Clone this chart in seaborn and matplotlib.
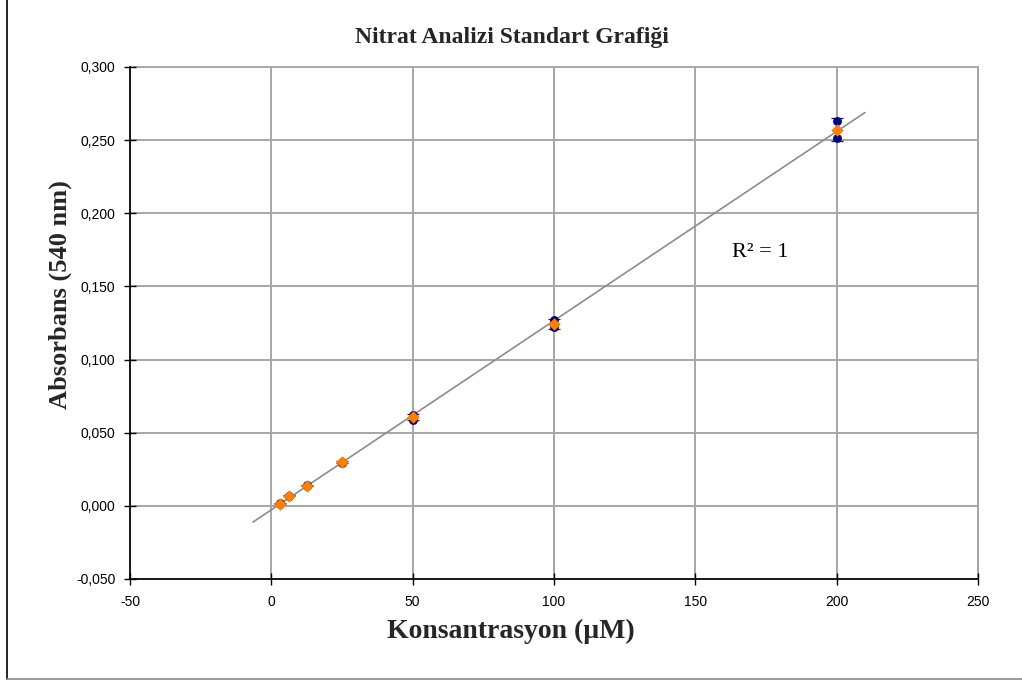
import numpy as np
import pandas as pd
import matplotlib
matplotlib.use("Agg")
import matplotlib.pyplot as plt
from matplotlib.lines import Line2D
from matplotlib.ticker import FuncFormatter, MultipleLocator
import seaborn as sns

# Nitrate standard series (µM) and absorbance readings at 540 nm
concentration = [3.125, 6.25, 12.5, 25, 50, 100, 200]
absorbance_rep1 = [0.0018, 0.0070, 0.0140, 0.0302, 0.0620, 0.1270, 0.2630]
absorbance_rep2 = [0.0014, 0.0066, 0.0136, 0.0295, 0.0590, 0.1220, 0.2515]

x_ticks = [-50, 0, 50, 100, 150, 200, 250]
y_ticks = [-0.05, 0.0, 0.05, 0.10, 0.15, 0.20, 0.25, 0.30]

# trendline extension (backward / forward), in µM
trend_backward = 6.5
trend_forward = 10

sns.set_theme(style="white")
plt.rcParams["font.family"] = ["Liberation Sans", "DejaVu Sans"]

reps = pd.DataFrame({
    "conc": concentration * 2,
    "abs": absorbance_rep1 + absorbance_rep2,
})
means = pd.DataFrame({
    "conc": concentration,
    "abs": np.mean([absorbance_rep1, absorbance_rep2], axis=0),
    "sd": np.std([absorbance_rep1, absorbance_rep2], axis=0, ddof=1),
})

fig = plt.figure(figsize=(10.22, 6.82), dpi=100)
ax = fig.add_axes([130 / 1022, 1 - 579 / 682, (978 - 130) / 1022, (579 - 67) / 682])

ax.set_xlim(x_ticks[0], x_ticks[-1])
ax.set_ylim(y_ticks[0], y_ticks[-1])
ax.xaxis.set_major_locator(MultipleLocator(50))
ax.yaxis.set_major_locator(MultipleLocator(0.05))
ax.grid(True, color="#a6a6a6", linewidth=1.4)
ax.set_axisbelow(True)
for gl in ax.get_xgridlines() + ax.get_ygridlines():
    gl.set_clip_on(False)

# linear fit through the mean values
slope, intercept = np.polyfit(means["conc"], means["abs"], 1)
r2 = np.corrcoef(means["conc"], means["abs"])[0, 1] ** 2
fit_x = np.array([-trend_backward, max(concentration) + trend_forward])
trend = pd.DataFrame({"conc": fit_x, "abs": slope * fit_x + intercept})
sns.lineplot(data=trend, x="conc", y="abs", ax=ax, color="#8c8c8c", linewidth=1.2, zorder=2)

ax.errorbar(means["conc"], means["abs"], yerr=means["sd"], fmt="none",
            ecolor="#1a1a6e", elinewidth=0.9, capsize=4, capthick=0.9, zorder=3)
sns.scatterplot(data=reps, x="conc", y="abs", ax=ax, color="#000080", marker="o",
                s=34, edgecolor="#000080", linewidth=0.5, zorder=4)
sns.scatterplot(data=means, x="conc", y="abs", ax=ax, color="#ff8000", marker="D",
                s=34, edgecolor="#ff8000", linewidth=0.5, zorder=5)

ax.text(163, 0.1735, f"R² = {r2:.0f}", fontsize=16, family="Liberation Serif",
        ha="left", va="center", color="black")

fmt_y = FuncFormatter(lambda v, p: f"{v:.3f}".replace(".", ",").replace("-0,000", "0,000"))
fmt_x = FuncFormatter(lambda v, p: f"{v:.0f}")
ax.yaxis.set_major_formatter(fmt_y)
ax.xaxis.set_major_formatter(fmt_x)
ax.tick_params(axis="both", which="major", direction="inout", length=9, width=1,
               color="black", labelsize=10, labelcolor="black",
               left=True, bottom=True)
ax.tick_params(axis="y", pad=6)
ax.tick_params(axis="x", pad=7)

for side in ("top", "right"):
    ax.spines[side].set_visible(False)
for side in ("left", "bottom"):
    ax.spines[side].set_color("black")
    ax.spines[side].set_linewidth(1.2)

ax.set_xlabel("Konsantrasyon (µM)", fontsize=20, fontweight="bold",
              family="Liberation Serif")
ax.set_ylabel("Absorbans (540 nm)", fontsize=19, fontweight="bold",
              family="Liberation Serif")
ax.xaxis.set_label_coords((511 - 130) / 848, -(619 - 579) / 512)
ax.yaxis.set_label_coords(-(130 - 72) / 848, (579 - 295) / 512)
fig.text(512 / 1022, 1 - 37 / 682, "Nitrat Analizi Standart Grafiği", ha="center",
         va="center", fontsize=17, fontweight="bold", family="Liberation Serif")

# chart frame
fig.add_artist(Line2D([7 / 1022, 7 / 1022], [1 - 679 / 682, 1], transform=fig.transFigure,
                      color="black", linewidth=1.2))
fig.add_artist(Line2D([7 / 1022, 1], [1 - 679 / 682, 1 - 679 / 682], transform=fig.transFigure,
                      color="#8a8a8a", linewidth=1.2))

fig.savefig("out.png", dpi=100)
